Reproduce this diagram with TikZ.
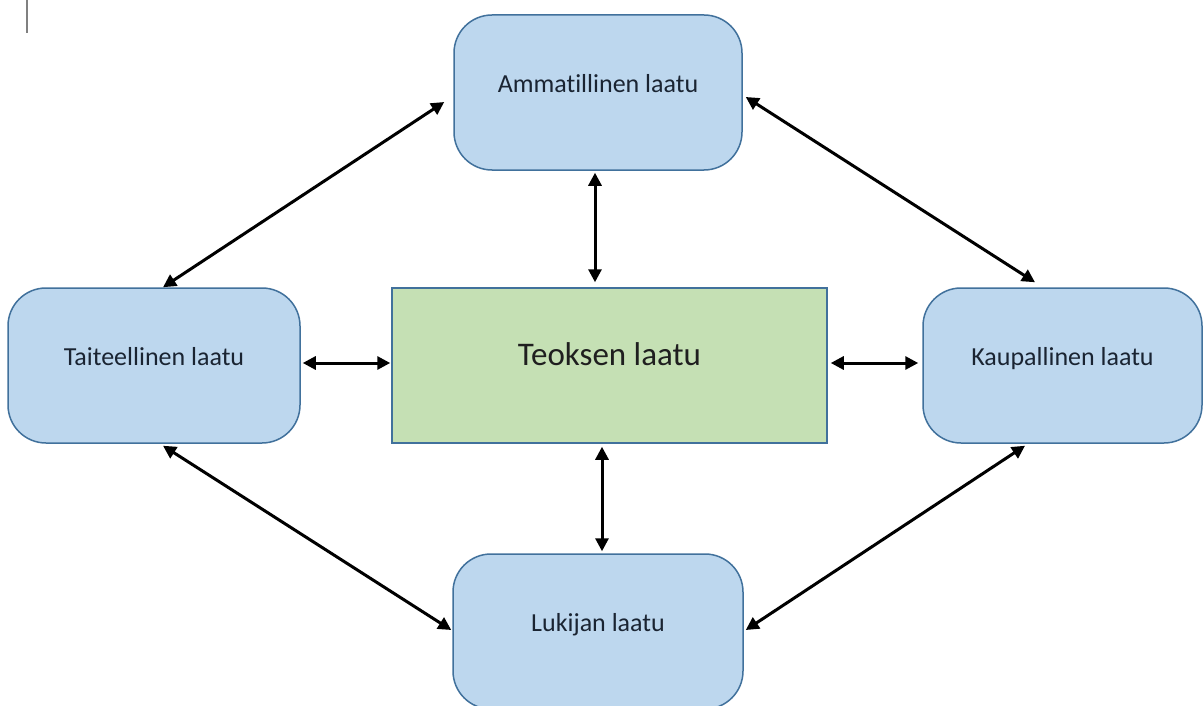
\documentclass[tikz,border=0pt]{standalone}
\usepackage{fontspec}
\setmainfont[Ligatures=NoCommon]{Carlito}
\usetikzlibrary{arrows.meta,calc}
\definecolor{boxblue}{HTML}{BDD7EE}
\definecolor{boxgreen}{HTML}{C5E0B4}
\definecolor{boxline}{HTML}{41719C}
\definecolor{txt}{HTML}{1A2432}
\tikzset{
  qbox/.style={draw=boxline, line width=1.5pt, fill=boxblue, rounded corners=38pt,
    minimum height=155pt, inner sep=0pt, text=txt, font=\fontsize{26}{30}\selectfont,
    text height=12pt, text depth=12pt},
  cbox/.style={draw=boxline, line width=1.5pt, fill=boxgreen,
    minimum width=435pt, minimum height=155pt, inner sep=0pt, text=black!88,
    font=\fontsize{33}{38}\selectfont, text height=13pt, text depth=13pt},
  link/.style={line width=3pt, {Triangle[length=13pt,width=13pt]}-{Triangle[length=13pt,width=13pt]}}
}
\begin{document}
\begin{tikzpicture}[x=1pt,y=-1pt]
\useasboundingbox (0,0) rectangle (1204,706);
\fill[white] (0,0) rectangle (1204,706);
\draw[gray, line width=1.5pt] (27,0) -- (27,33);
\node[qbox, minimum width=288pt] (amm) at (598,92.5) {Ammatillinen laatu};
\node[qbox, minimum width=292pt] (tai) at (154,365.5) {Taiteellinen laatu};
\node[cbox] (teo) at (609.5,365.5) {Teoksen laatu};
\node[qbox, minimum width=279pt] (kau) at (1062.5,365.5) {Kaupallinen laatu};
\node[qbox, minimum width=290pt] (luk) at (598,631.5) {Lukijan laatu};
\draw[link] ($(amm.west)+(-9,9.5)$) -- ($(tai.north)+(9,0)$);
\draw[link] ($(amm.east)+(3,4.5)$) -- ($(kau.north)+(-27.5,-5)$);
\draw[link] ($(amm.south)+(-3,2)$) -- ($(teo.north)+(-14.5,-5)$);
\draw[link] ($(tai.east)+(2,-2.5)$) -- ($(teo.west)+(-1,-2.5)$);
\draw[link] ($(teo.east)+(3,-2.5)$) -- ($(kau.west)+(-4,-2.5)$);
\draw[link] ($(teo.south)+(-7.5,3)$) -- ($(luk.north)+(4,-2)$);
\draw[link] ($(tai.south)+(9,2)$) -- ($(luk.west)+(-1,-1.5)$);
\draw[link] ($(kau.south)+(-37.5,2)$) -- ($(luk.east)+(2,-1.5)$);
\end{tikzpicture}
\end{document}
